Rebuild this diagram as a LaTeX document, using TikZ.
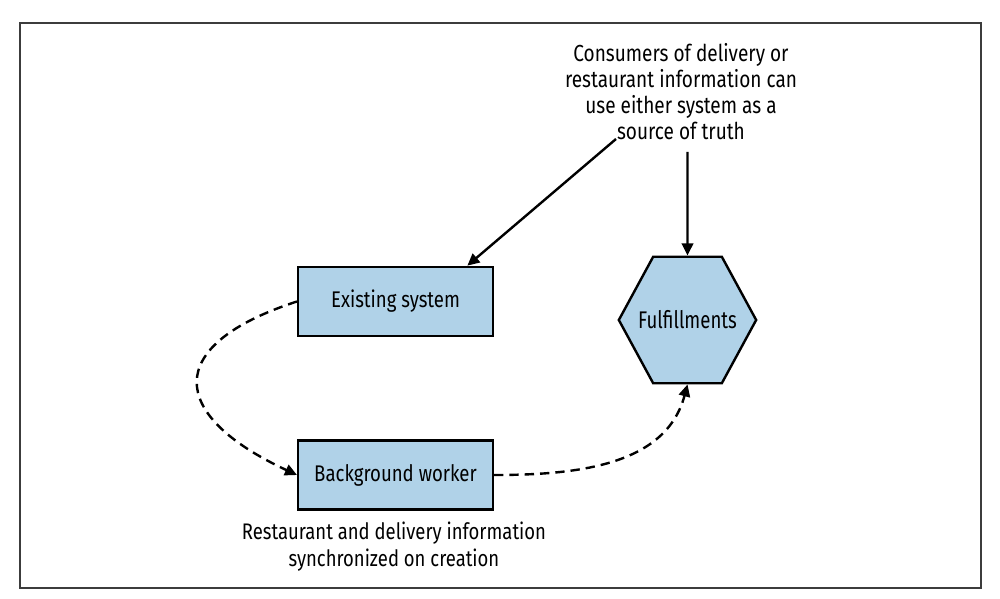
\documentclass[tikz,border=0pt]{standalone}
\usepackage{fontspec}
\setmainfont{Fira Sans}[FakeStretch=0.82]
\usepackage{xcolor}
\usetikzlibrary{arrows.meta,shapes.geometric}

\definecolor{sysblue}{RGB}{176,210,232}
\definecolor{framegray}{RGB}{60,60,60}

\tikzset{
  sysbox/.style={draw, line width=1.8pt, fill=sysblue, minimum width=146pt, minimum height=52pt, font=\fontsize{17}{19.5}\selectfont},
  syshex/.style={draw, line width=1.8pt, fill=sysblue, regular polygon, regular polygon sides=6, minimum size=103pt, inner sep=-9pt, font=\fontsize{17}{19.5}\selectfont},
  note/.style={align=center, inner sep=0.75pt, font=\fontsize{17.4}{19.3}\selectfont},
  feed/.style={line width=1.8pt, -{Triangle[length=9pt,width=8.5pt]}},
  sync/.style={line width=1.8pt, dash pattern=on 7pt off 4.5pt, -{Triangle[length=9pt,width=8.5pt]}}
}

\begin{document}
\begin{tikzpicture}[x=0.75pt,y=0.75pt,yscale=-1,xscale=1]
        \useasboundingbox (0,0) rectangle (1000,599);
        
        %Shape: Frame
        \draw [framegray, line width=1pt] (20,23) rectangle (981,588);
        
        % Shape: Rectangle
        \node [sysbox] (exist) at (395.5,301.5) {Existing system};
        % Shape: Rectangle
        \node [sysbox] (worker) at (395.5,475) {Background worker};
        % Shape: Hexagon
        \node [syshex, yscale=1.063] (ful) at (687.5,320) {Fulfillments};
        
        % Text Node
        \node [note] (consumers) at (681,91.5) {Consumers of delivery or\\restaurant information can\\use either system as a\\source of truth};
        % Text Node
        \node [note, font=\fontsize{16.9}{20}\selectfont] (created) at (394,546.5) {Restaurant and delivery information\\synchronized on creation};
        
        \coordinate (fromleft) at (616,139);
        \coordinate (fromtop) at (687.5,152);
        
        % Connectors
        \draw [feed] (fromleft) -- ([xshift=-20pt]exist.north east);
        \draw [feed] (fromtop) -- (ful.north);
        \draw [sync] (exist.west) to [out=162,in=205,looseness=2.1] (worker.west);
        \draw [sync] (worker.east) to [out=0,in=105] (ful.south);
        
\end{tikzpicture}
\end{document}
